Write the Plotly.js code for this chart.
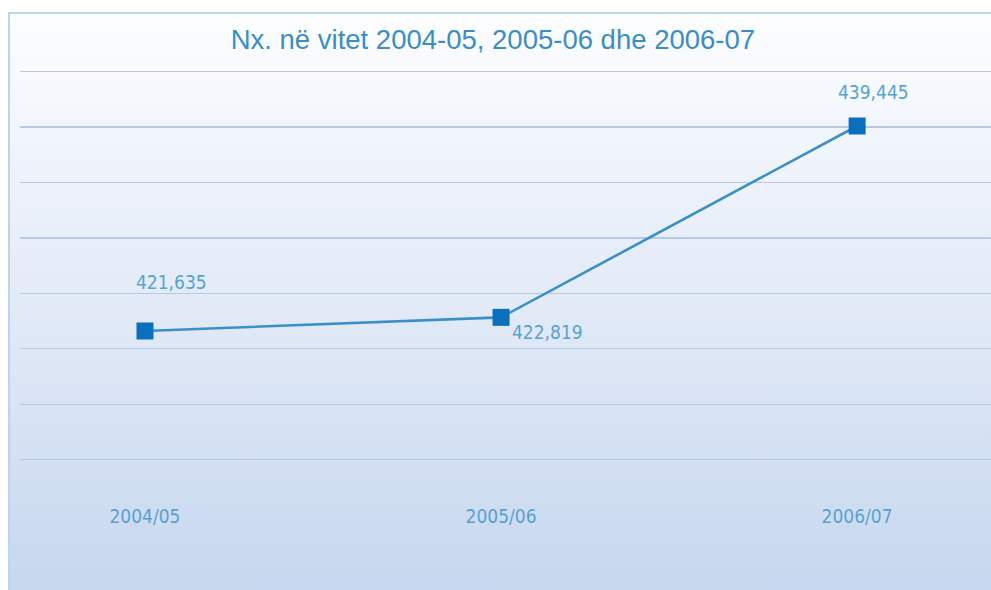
<!DOCTYPE html>
<html>
<head>
<meta charset="utf-8">
<script src="https://cdn.plot.ly/plotly-3.0.1.min.js"></script>
<style>
  html, body { margin: 0; padding: 0; background: #ffffff; }
  #wrap { position: relative; width: 991px; height: 590px; overflow: hidden; }
  #frame { position: absolute; left: 8px; top: 12px; width: 990px; height: 590px;
           box-sizing: border-box; border-left: 2px solid #bad6ef; border-top: 2px solid #bad6ef;
           background: linear-gradient(to bottom, #fcfdff 0%, #e2eaf7 50%, #c5d6ee 100%); }
  #chart { position: absolute; left: 0; top: 0; width: 991px; height: 590px; }
</style>
</head>
<body>
<div id="wrap">
  <div id="frame"></div>
  <div id="chart"></div>
</div>
<script>
// Data
const categories = ["2004/05", "2005/06", "2006/07"];
const values = [421635, 422819, 439445];
const titleText = "Nx. në vitet 2004-05, 2005-06 dhe 2006-07";

// Label offsets (px) for the value labels
const labelShiftX = [27, 46, 16];
const labelShiftY = [49, -15, 34];

const fmt = v => v.toLocaleString("en-US");

const trace = {
  type: "scatter",
  mode: "lines+markers",
  x: categories,
  y: values,
  line: { color: "#3a90c4", width: 2.6 },
  marker: { symbol: "square", size: 17, color: "#0a6fbd", line: { width: 0 } },
  hoverinfo: "skip",
  cliponaxis: false
};

const labelFont = { family: "DejaVu Sans Condensed, Liberation Sans Narrow, sans-serif", size: 19, color: "#58a2cf" };

const annotations = categories.map((c, i) => ({
  x: c, y: values[i], xref: "x", yref: "y",
  text: fmt(values[i]),
  showarrow: false,
  xanchor: "center", yanchor: "middle",
  xshift: labelShiftX[i], yshift: labelShiftY[i],
  font: labelFont
}));

const layout = {
  width: 991, height: 590,
  margin: { l: 20, r: 0, t: 60, b: 110 },
  paper_bgcolor: "rgba(0,0,0,0)",
  plot_bgcolor: "rgba(0,0,0,0)",
  showlegend: false,
  title: {
    text: titleText,
    font: { family: "Liberation Sans, Arial, sans-serif", size: 27.5, color: "#3b8ec2" },
    x: 0.487, xanchor: "center", xref: "paper",
    y: 0.934, yanchor: "middle", yref: "container"
  },
  xaxis: {
    type: "category",
    range: [-0.351, 2.376],
    showgrid: false, zeroline: false, showline: false,
    ticks: "",
    tickfont: labelFont,
    ticklabelstandoff: 23,
    fixedrange: true
  },
  yaxis: {
    range: [408689, 445179],
    tick0: 439358, dtick: 4816,
    showgrid: true, gridcolor: "#b5cae5", gridwidth: 1.3,
    zeroline: false, showline: false,
    showticklabels: false, ticks: "",
    fixedrange: true
  },
  annotations: annotations
};

Plotly.newPlot("chart", [trace], layout, { staticPlot: true, displayModeBar: false });
</script>
</body>
</html>
